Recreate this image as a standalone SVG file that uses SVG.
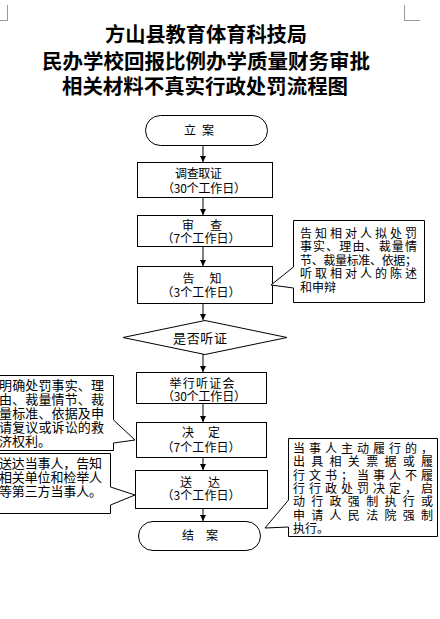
<svg xmlns="http://www.w3.org/2000/svg" width="440" height="619" viewBox="0 0 440 619">
<defs>
<marker id="ah" markerUnits="userSpaceOnUse" markerWidth="6" markerHeight="6" refX="6" refY="3" orient="auto">
<path d="M0,0 L6,3 L0,6 z" fill="#000"/>
</marker>
<style>
.t{font-family:"Noto Sans CJK SC","Liberation Sans",sans-serif;fill:#000}
.title{font-size:20px;font-weight:700;text-anchor:middle}
.b{font-size:12px;text-anchor:middle}
.c{font-size:12px}
.c13{font-size:13px}
.shape{fill:#fff;stroke:#000;stroke-width:1}
.conn line{stroke:#000;stroke-width:1;marker-end:url(#ah)}
.mark{stroke:#999;stroke-width:1;fill:none}
</style>
</defs>
<rect width="440" height="619" fill="#fff"/>
<path class="mark" d="M7.5,5 V20.5 H0 M404.5,5 V20.5 H420"/>
<g id="title">
<text class="t title" x="206" y="42" textLength="202" lengthAdjust="spacingAndGlyphs">方山县教育体育科技局</text>
<text class="t title" x="206" y="69" textLength="328" lengthAdjust="spacingAndGlyphs">民办学校回报比例办学质量财务审批</text>
<text class="t title" x="205" y="94" textLength="286" lengthAdjust="spacingAndGlyphs">相关材料不真实行政处罚流程图</text>
</g>
<g class="conn" id="connectors">
<line x1="203" y1="145" x2="203" y2="162"/>
<line x1="203" y1="197" x2="203" y2="215"/>
<line x1="203" y1="247" x2="203" y2="266"/>
<line x1="203" y1="303" x2="203" y2="320"/>
<line x1="203" y1="354" x2="203" y2="372"/>
<line x1="203" y1="403" x2="203" y2="422"/>
<line x1="203" y1="457" x2="203" y2="470"/>
<line x1="203" y1="508" x2="203" y2="521"/>
</g>
<g id="n_lian">
<rect class="shape" x="145.5" y="115.5" width="122" height="30" rx="15"/>
<text class="t b" x="199" y="134.5" textLength="30" lengthAdjust="spacing">立 案</text>
</g>
<g id="n_diaocha">
<rect class="shape" x="137.5" y="162.5" width="135" height="35"/>
<text class="t b" x="198.5" y="177.5" textLength="47">调查取证</text>
<text class="t b" x="204" y="192.5" textLength="84" lengthAdjust="spacing">（30个工作日）</text>
</g>
<g id="n_shencha">
<rect class="shape" x="137.5" y="215.5" width="135" height="31"/>
<text class="t b" x="202" y="229.5" textLength="40" lengthAdjust="spacing">审　查</text>
<text class="t b" x="201" y="242.5" textLength="79" lengthAdjust="spacing">（7个工作日）</text>
</g>
<g id="n_gaozhi">
<rect class="shape" x="137.5" y="266.5" width="135" height="37"/>
<text class="t b" x="202" y="282.5" textLength="39" lengthAdjust="spacing">告　知</text>
<text class="t b" x="201" y="296.5" textLength="79" lengthAdjust="spacing">（3个工作日）</text>
</g>
<g id="n_tingzheng_q">
<polygon class="shape" points="205,320.5 287,337.5 205,354.5 123,337.5"/>
<text class="t b" x="200" y="342.5" style="font-size:13px" textLength="54" lengthAdjust="spacing">是否听证</text>
</g>
<g id="n_juxing">
<rect class="shape" x="136.5" y="372.5" width="130" height="31"/>
<text class="t b" x="202" y="387.5" textLength="65" lengthAdjust="spacing">举行听证会</text>
<text class="t b" x="204" y="400.5" textLength="84" lengthAdjust="spacing">（30个工作日）</text>
</g>
<g id="n_jueding">
<rect class="shape" x="136.5" y="422.5" width="130" height="35"/>
<text class="t b" x="201" y="436.5" textLength="38" lengthAdjust="spacing">决　定</text>
<text class="t b" x="201" y="451.5" textLength="79" lengthAdjust="spacing">（7个工作日）</text>
</g>
<g id="n_songda">
<rect class="shape" x="135.5" y="470.5" width="132" height="38"/>
<text class="t b" x="200" y="486.5" textLength="40" lengthAdjust="spacing">送　达</text>
<text class="t b" x="201" y="499.5" textLength="79" lengthAdjust="spacing">（3个工作日）</text>
</g>
<g id="n_jiean">
<rect class="shape" x="138.5" y="521.5" width="122" height="29" rx="14.5"/>
<text class="t b" x="200" y="539.5" textLength="36" lengthAdjust="spacing">结　案</text>
</g>
<g id="note_gaozhi">
<path class="shape" d="M293.5,220.5 H424.5 V302.5 H293.5 V288 L271,285 L293.5,267 Z"/>
<text class="t c" x="300" y="237.5" textLength="117" lengthAdjust="spacing">告知相对人拟处罚</text>
<text class="t c" x="300" y="251" textLength="117" lengthAdjust="spacing">事实、理由、裁量情</text>
<text class="t c" x="300" y="264.5" textLength="117" lengthAdjust="spacing">节、裁量标准、依据；</text>
<text class="t c" x="300" y="278" textLength="117" lengthAdjust="spacing">听取相对人的陈述</text>
<text class="t c" x="300" y="291.5">和申辩</text>
</g>
<g id="note_jueding">
<path class="shape" d="M-10,375.5 H113.5 V420 L135,440 L113.5,443 V450.5 H-10 Z"/>
<text class="t c13" x="-1" y="390" textLength="105" lengthAdjust="spacing">明确处罚事实、理</text>
<text class="t c13" x="-1" y="404" textLength="105" lengthAdjust="spacing">由、裁量情节、裁</text>
<text class="t c13" x="-1" y="418" textLength="105" lengthAdjust="spacing">量标准、依据及申</text>
<text class="t c13" x="-1" y="432" textLength="105" lengthAdjust="spacing">请复议或诉讼的救</text>
<text class="t c13" x="-1" y="446">济权利。</text>
</g>
<g id="note_songda">
<path class="shape" d="M-10,453.5 H110.5 V487 L135,495 L110.5,505 V513.5 H-10 Z"/>
<text class="t c13" x="-1" y="468" textLength="103" lengthAdjust="spacing">送达当事人，告知</text>
<text class="t c13" x="-1" y="482" textLength="103" lengthAdjust="spacing">相关单位和检举人</text>
<text class="t c13" x="-1" y="496" textLength="103" lengthAdjust="spacing">等第三方当事人。</text>
</g>
<g id="note_jiean">
<path class="shape" d="M288.5,438.5 H437.5 V536.5 H288.5 V527 L265,528 L288.5,500 Z"/>
<text class="t c" x="293" y="452.8" textLength="140" lengthAdjust="spacing">当事人主动履行的，</text>
<text class="t c" x="293" y="466.2" textLength="140" lengthAdjust="spacing">出具相关票据或履</text>
<text class="t c" x="293" y="479.5" textLength="140" lengthAdjust="spacing">行文书；当事人不履</text>
<text class="t c" x="293" y="492.8" textLength="140" lengthAdjust="spacing">行行政处罚决定，启</text>
<text class="t c" x="293" y="506.2" textLength="140" lengthAdjust="spacing">动行政强制执行或</text>
<text class="t c" x="293" y="519.5" textLength="140" lengthAdjust="spacing">申请人民法院强制</text>
<text class="t c" x="293" y="532.8">执行。</text>
</g>
</svg>
